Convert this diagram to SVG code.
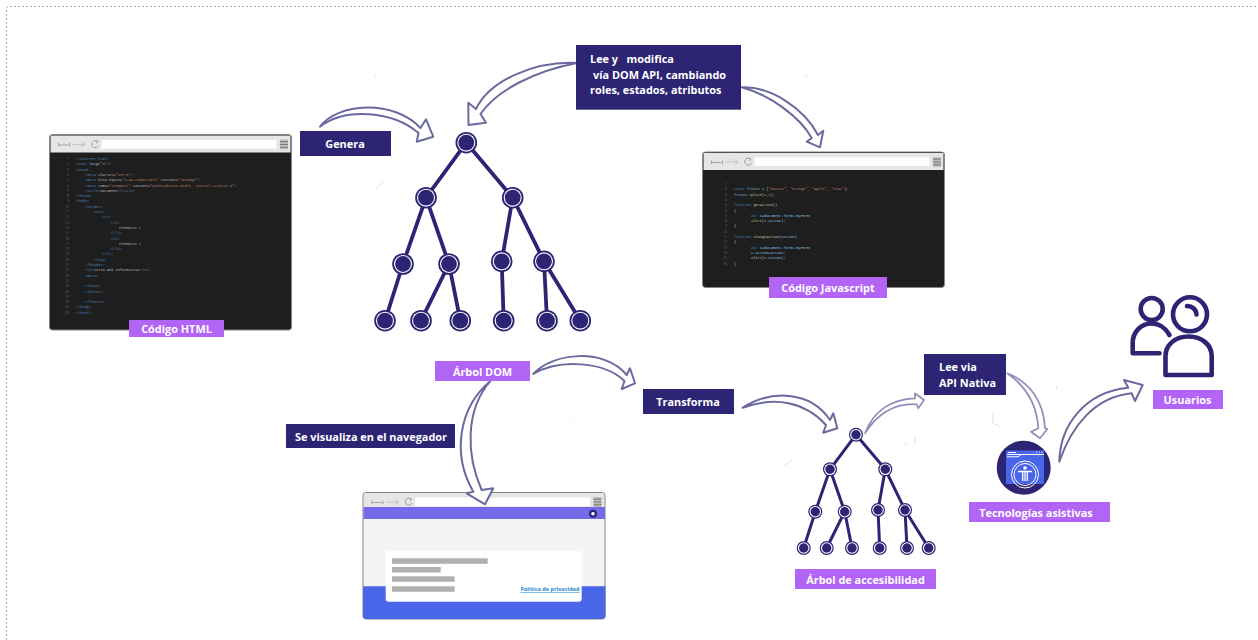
<svg xmlns="http://www.w3.org/2000/svg" xmlns:xlink="http://www.w3.org/1999/xlink" width="1258" height="640" viewBox="0 0 1258 640">
<style>
text{font-family:"Open Sans","Liberation Sans",sans-serif}
.lbl{font-size:10.900px;font-weight:700;fill:#fff;text-anchor:middle}
.lbll{font-size:10.900px;font-weight:700;fill:#fff;white-space:pre}
.navy{fill:#2d2573}
.pur{fill:#b264f5}
.edge{stroke:#2d2573;stroke-width:3.800;fill:none;stroke-linecap:round}
.edges{stroke:#2d2573;stroke-width:3;fill:none;stroke-linecap:round}
.arr{fill:#fff;stroke:#6b6a9f;stroke-width:2;stroke-linejoin:round}
.arrl{fill:#fff;stroke:#8f8eb9;stroke-width:1.700;stroke-linejoin:round}
.speck{stroke:#c4c3dc;stroke-width:.5;fill:none}
.code{font-family:"Liberation Mono",monospace;font-size:3.600px;fill:#d8d8d8;white-space:pre}
.num{font-family:"Liberation Mono",monospace;font-size:3.600px;fill:#777;text-anchor:end}
.t{fill:#569cd6}.a{fill:#9cdcfe}.s{fill:#ce9178}.f{fill:#dcdcaa}
.bar{fill:#b0b0b0}
.ic{fill:none;stroke:#2d2573;stroke-width:4.600;stroke-linecap:round;stroke-linejoin:round}
</style>
<defs>
<g id="nl"><circle r="10.800" fill="#2d2573"/><circle r="9" fill="#fff"/><circle r="7.900" fill="#2d2573"/></g>
<g id="ns"><circle r="7" fill="#2d2573"/><circle r="5.800" fill="#fff"/><circle r="4.700" fill="#2d2573"/></g>
<g id="tools">
<rect width="240" height="17" fill="#e6e6e6"/>
<path d="M8 9.500H18M8 7.500V11M19 7.500V11" stroke="#9a9a9a" stroke-width=".9" fill="none"/>
<path d="M22 9H34M31 6.500L34.500 9L31 11.500" stroke="#c0c0c0" stroke-width=".9" fill="none"/>
<path d="M47 6A3.500 3.500 0 1 0 48 10M45 5L47.500 6L46 8" stroke="#9a9a9a" stroke-width=".9" fill="none"/>
<rect x="51" y="4.500" width="175" height="8.500" fill="#fff"/>
<rect x="229.500" y="4" width="8" height="10" fill="#bdbdbd"/>
<path d="M229.500 6.200H237.500M229.500 9H237.500M229.500 11.800H237.500" stroke="#777" stroke-width="1"/>
</g>
</defs>
<rect width="1258" height="640" fill="#fff"/>
<path d="M6.500 640V9Q6.500 6.500 9 6.500H1258" fill="none" stroke="#a8a8a8" stroke-width="1" stroke-dasharray="2 2"/>

<g id="browser-html">
<rect x="49.500" y="134.500" width="242" height="195.500" rx="3" fill="#1e1e1e" stroke="#858585"/>
<use xlink:href="#tools" href="#tools" x="50.500" y="135.500"/>
<g opacity=".8">
<g class="num"><text x="69" y="160">1</text><text x="69" y="165.300">2</text><text x="69" y="170.600">3</text><text x="69" y="175.900">4</text><text x="69" y="181.200">5</text><text x="69" y="186.500">6</text><text x="69" y="191.800">7</text><text x="69" y="197.100">8</text><text x="69" y="202.400">9</text><text x="69" y="207.700">10</text><text x="69" y="213">11</text><text x="69" y="218.300">12</text><text x="69" y="223.600">13</text><text x="69" y="228.900">14</text><text x="69" y="234.200">15</text><text x="69" y="239.500">16</text><text x="69" y="244.800">17</text><text x="69" y="250.100">18</text><text x="69" y="255.400">19</text><text x="69" y="260.700">20</text><text x="69" y="266">21</text><text x="69" y="271.300">22</text><text x="69" y="276.600">23</text><text x="69" y="281.900">24</text><text x="69" y="287.200">25</text><text x="69" y="292.500">26</text><text x="69" y="297.800">27</text><text x="69" y="303.100">28</text><text x="69" y="308.400">29</text><text x="69" y="313.700">30</text></g>
<text class="code t" x="76" y="160">&lt;!DOCTYPE html&gt;</text>
<text class="code" x="76" y="165.300"><tspan class="t">&lt;html</tspan> lang=<tspan class="s">"en"</tspan><tspan class="t">&gt;</tspan></text>
<text class="code t" x="76" y="170.600">&lt;head&gt;</text>
<text class="code" x="85.300" y="175.900"><tspan class="t">&lt;meta</tspan> charset=<tspan class="s">"UTF-8"</tspan><tspan class="t">&gt;</tspan></text>
<text class="code" x="85.300" y="181.200"><tspan class="t">&lt;meta</tspan> http-equiv=<tspan class="s">"X-UA-Compatible"</tspan> content=<tspan class="s">"IE=edge"</tspan><tspan class="t">&gt;</tspan></text>
<text class="code" x="85.300" y="186.500"><tspan class="t">&lt;meta</tspan> name=<tspan class="s">"viewport"</tspan> content=<tspan class="s">"width=device-width, initial-scale=1.0"</tspan><tspan class="t">&gt;</tspan></text>
<text class="code" x="85.300" y="191.800"><tspan class="t">&lt;title&gt;</tspan>Document<tspan class="t">&lt;/title&gt;</tspan></text>
<text class="code t" x="76" y="197.100">&lt;/head&gt;</text>
<text class="code t" x="76" y="202.400">&lt;body&gt;</text>
<text class="code t" x="85.300" y="207.700">&lt;header&gt;</text>
<text class="code t" x="93.300" y="213">&lt;nav&gt;</text>
<text class="code t" x="102" y="218.300">&lt;ul&gt;</text>
<text class="code t" x="110.700" y="223.600">&lt;li&gt;</text>
<text class="code" x="119.300" y="228.900">Elemento 1</text>
<text class="code t" x="110.700" y="234.200">&lt;/li&gt;</text>
<text class="code t" x="110.700" y="239.500">&lt;li&gt;</text>
<text class="code" x="119.300" y="244.800">Elemento 2</text>
<text class="code t" x="110.700" y="250.100">&lt;/li&gt;</text>
<text class="code t" x="102" y="255.400">&lt;/ul&gt;</text>
<text class="code t" x="93.300" y="260.700">&lt;/nav&gt;</text>
<text class="code t" x="85.300" y="266">&lt;/header&gt;</text>
<text class="code" x="85.300" y="271.300"><tspan class="t">&lt;h1&gt;</tspan>Sitio web informativo<tspan class="t">&lt;/h1&gt;</tspan></text>
<text class="code t" x="85.300" y="276.600">&lt;main&gt;</text>
<text class="code t" x="85.300" y="287.200">&lt;/main&gt;</text>
<text class="code t" x="85.300" y="292.500">&lt;footer&gt;</text>
<text class="code t" x="85.300" y="303.100">&lt;/footer&gt;</text>
<text class="code t" x="76" y="308.400">&lt;/body&gt;</text>
<text class="code t" x="76" y="313.700">&lt;/html&gt;</text>
</g>
</g>

<g id="browser-js">
<rect x="702.500" y="152" width="242" height="135.500" rx="3" fill="#1e1e1e" stroke="#858585"/>
<use xlink:href="#tools" href="#tools" x="703.500" y="153"/>
<g opacity=".85">
<g class="num"><text x="727" y="185">1</text><text x="727" y="190.300">2</text><text x="727" y="195.600">3</text><text x="727" y="200.900">4</text><text x="727" y="206.200">5</text><text x="727" y="211.500">6</text><text x="727" y="216.800">7</text><text x="727" y="222.100">8</text><text x="727" y="227.400">9</text><text x="727" y="232.700">10</text><text x="727" y="238">11</text><text x="727" y="243.300">12</text><text x="727" y="248.600">13</text><text x="727" y="253.900">14</text><text x="727" y="259.200">15</text><text x="727" y="264.500">16</text></g>
<text class="code" x="734" y="190.300"><tspan class="t">const</tspan> <tspan class="a">fruits</tspan> = [<tspan class="s">"Banana"</tspan>, <tspan class="s">"Orange"</tspan>, <tspan class="s">"Apple"</tspan>, <tspan class="s">"Kiwi"</tspan>];</text>
<text class="code" x="734" y="195.600"><tspan class="a">fruits</tspan>.<tspan class="f">splice</tspan>(2,2);</text>
<text class="code" x="734" y="206.200"><tspan class="t">function</tspan> <tspan class="f">getAction</tspan>()</text>
<text class="code" x="734" y="211.500">{</text>
<text class="code" x="751" y="216.800"><tspan class="t">var</tspan> <tspan class="a">x=document.forms.myForm</tspan>;</text>
<text class="code" x="751" y="222.100"><tspan class="f">alert</tspan>(<tspan class="a">x.action</tspan>);</text>
<text class="code" x="734" y="227.400">}</text>
<text class="code" x="734" y="238"><tspan class="t">function</tspan> <tspan class="f">changeAction</tspan>(<tspan class="a">action</tspan>)</text>
<text class="code" x="734" y="243.300">{</text>
<text class="code" x="751" y="248.600"><tspan class="t">var</tspan> <tspan class="a">x=document.forms.myForm</tspan>;</text>
<text class="code" x="751" y="253.900"><tspan class="a">x.action=action</tspan>;</text>
<text class="code" x="751" y="259.200"><tspan class="f">alert</tspan>(<tspan class="a">x.action</tspan>);</text>
<text class="code" x="734" y="264.500">}</text>
</g>
</g>

<g id="browser-page">
<rect x="363" y="492.500" width="242" height="126.500" rx="3" fill="#f4f4f4" stroke="#858585"/>
<use xlink:href="#tools" href="#tools" x="364" y="493"/>
<rect x="363.500" y="507" width="241.500" height="12" fill="#756be9"/>
<circle cx="593" cy="513.700" r="4" fill="#2d2573"/><circle cx="593" cy="513.700" r="1.800" fill="#fff"/>
<path d="M363 586.300H605.500V616Q605.500 619 602.500 619H366Q363 619 363 616Z" fill="#4a66e8"/>
<rect x="385.700" y="551" width="196" height="50.700" rx="3" fill="#fff"/>
<rect class="bar" x="392" y="558.300" width="95.700" height="5.500"/>
<rect class="bar" x="392" y="567" width="48.700" height="5.500"/>
<rect class="bar" x="392" y="576.300" width="62.700" height="5.500"/>
<rect class="bar" x="392" y="586.300" width="62.700" height="5.500"/>
<text x="520.500" y="591" font-size="5.500" font-weight="700" fill="#1c86d1" text-decoration="underline">Política de privacidad</text>
</g>

<g id="connectors">
<g id="specks" class="speck">
<path d="M374 76L377.500 73.300M805 76L808 75M376 188.300L385.300 180.300M782.700 466.700L792 460.300M572.700 417.700L574.700 419.300M1056.700 385V389M993 412L992.500 423L1001 427M915 437V444M903 443L906 444"/>
</g>
<g id="dom-edges" class="edge">
<path d="M466.300 142.700L426 197.700M466.300 142.700L512.700 197.700M426 197.700L403 264M426 197.700L449 264M512.700 197.700L501.700 261.300M512.700 197.700L544 261.300M403 264L385 320.700M449 264L421 320.700M449 264L460.300 320.700M501.700 261.300L503.700 320.700M544 261.300L547 320.700M544 261.300L580.300 320.700"/>
</g>
<g id="a11y-edges" class="edges">
<path d="M856 434.700L830 469.300M856 434.700L885.300 469.300M830 469.300L815.300 511.700M830 469.300L844.700 511.700M885.300 469.300L878 510M885.300 469.300L905 510M815.300 511.700L803.700 548M844.700 511.700L826.700 548M844.700 511.700L852 548M878 510L879.700 548M905 510L907 548M905 510L928.700 548"/>
</g>
<path id="arrow-genera" class="arr" d="M320 126.700C337 103 394 99 420.500 128L426 119.300L433.300 136.700L416.700 141.700L418.500 133C393 111 345 107 320 126.700Z"/>
<path id="arrow-lee-dom" class="arr" d="M577 63C535 61 490 80 476 109L468.300 102.700L468.500 125L486 122.700L480.500 114C497 90 535 71 577 63Z"/>
<path id="arrow-lee-js" class="arr" d="M741.700 87.300C770 86 804 108 818 135L823.300 130.700L820 147.300L806.700 141.700L811.700 138C800 117 770 95 741.700 87.300Z"/>
<path id="arrow-dom-transforma" class="arr" d="M533.300 374C553 352 605 348 626.700 375L630 368.300L635 383.300L621.700 389L624.500 381C605 362 560 358 533.300 374Z"/>
<path id="arrow-dom-browser" class="arr" d="M490.700 380.700C458 408 452 455 473.300 491.700L466.700 493.300L485 504.300L493.300 488.300L481.700 490C466 455 465 410 490.700 380.700Z"/>
<path id="arrow-transforma-a11y" class="arr" d="M742.700 407.700C770 390 810 390 830 420L833.300 413.300L837.300 428.300L823.300 432.700L826 425C805 402 775 396 742.700 407.700Z"/>
<path id="arrow-a11y-lee" class="arrl" d="M865 433.300C873 412 890 399 915 398.300L915 393.300L924 400L918.300 408.300L916.700 404.300C895 403 878 413 865 433.300Z"/>
<path id="arrow-lee-at" class="arrl" d="M1007.300 373.300C1030 382 1044 402 1045 428.300L1047.300 429L1040 438.300L1031 431.700L1038.300 428.300C1037 405 1027 387 1007.300 373.300Z"/>
<path id="arrow-at-users" class="arr" d="M1059.300 461.700C1060 425 1085 392 1128.300 387.700L1124 380L1142.700 385L1135 401L1131.700 393.300C1095 397 1072 425 1059.300 461.700Z"/>
</g>

<g id="dom-tree">
<use href="#nl" x="466.300" y="142.700"/><use href="#nl" x="426" y="197.700"/><use href="#nl" x="512.700" y="197.700"/>
<use href="#nl" x="403" y="264"/><use href="#nl" x="449" y="264"/><use href="#nl" x="501.700" y="261.300"/><use href="#nl" x="544" y="261.300"/>
<use href="#nl" x="385" y="320.700"/><use href="#nl" x="421" y="320.700"/><use href="#nl" x="460.300" y="320.700"/><use href="#nl" x="503.700" y="320.700"/><use href="#nl" x="547" y="320.700"/><use href="#nl" x="580.300" y="320.700"/>
</g>
<g id="a11y-tree">
<use href="#ns" x="856" y="434.700"/><use href="#ns" x="830" y="469.300"/><use href="#ns" x="885.300" y="469.300"/>
<use href="#ns" x="815.300" y="511.700"/><use href="#ns" x="844.700" y="511.700"/><use href="#ns" x="878" y="510"/><use href="#ns" x="905" y="510"/>
<use href="#ns" x="803.700" y="548"/><use href="#ns" x="826.700" y="548"/><use href="#ns" x="852" y="548"/><use href="#ns" x="879.700" y="548"/><use href="#ns" x="907" y="548"/><use href="#ns" x="928.700" y="548"/>
</g>

<g id="usuarios-icon">
<circle class="ic" cx="1151.700" cy="309" r="11"/>
<path class="ic" d="M1169.500 335C1165 327 1159 323.500 1151.700 323.500C1141 323.500 1132.700 332 1132.700 343V353.300H1159.500"/>
<circle class="ic" cx="1190" cy="314.300" r="17"/>
<path class="ic" d="M1187 306A9 9 0 0 1 1196.500 314.500"/>
<path class="ic" d="M1165.500 375V356C1165.500 345 1175 336.500 1188.500 336.500C1202 336.500 1211.700 345 1211.700 356V375Z"/>
</g>
<g id="tecnologias-icon">
<circle cx="1023.700" cy="467.700" r="27" fill="#2d2573"/>
<rect x="1006" y="450.500" width="38" height="33.500" fill="#4a66e8"/>
<path d="M1007 454.500H1044M1007 456.800H1018L1021 454.500" stroke="#fff" stroke-width="1" fill="none"/>
<path d="M1008 452.500H1016M1036 452.200H1037M1039 452.200H1040M1041.500 452.200H1042.500" stroke="#fff" stroke-width="1"/>
<circle cx="1025" cy="474.500" r="13.500" fill="none" stroke="#fff" stroke-width="1"/>
<circle cx="1025" cy="474.500" r="11" fill="none" stroke="#fff" stroke-width="1"/>
<circle cx="1025" cy="468" r="1.800" fill="#fff"/>
<path d="M1018 471.500H1032M1025 471V481M1022.700 471V481M1027.300 471V481" stroke="#fff" stroke-width="1.300" fill="none"/>
</g>

<g id="label-genera"><rect class="navy" x="300" y="131" width="91" height="25"/><text class="lbl" x="345" y="148">Genera</text></g>
<g id="label-lee-dom"><rect class="navy" x="576" y="45" width="165" height="64.700"/><text class="lbll" x="590" y="63" xml:space="preserve">Lee y   modifica</text><text class="lbll" x="593" y="79">vía DOM API, cambiando</text><text class="lbll" x="590" y="94">roles, estados, atributos</text></g>
<g id="label-visualiza"><rect class="navy" x="286" y="424" width="169" height="24"/><text class="lbl" x="371" y="441">Se visualiza en el navegador</text></g>
<g id="label-transforma"><rect class="navy" x="643" y="389" width="91" height="25"/><text class="lbl" x="688" y="406">Transforma</text></g>
<g id="label-lee-nativa"><rect class="navy" x="924" y="354" width="82" height="41"/><text class="lbll" x="939" y="371">Lee via</text><text class="lbll" x="939" y="387">API Nativa</text></g>
<g id="label-html"><rect class="pur" x="129" y="320" width="95" height="17"/><text class="lbl" x="176.500" y="332.500">Código HTML</text></g>
<g id="label-js"><rect class="pur" x="769" y="277" width="118" height="21"/><text class="lbl" x="828" y="292">Código Javascript</text></g>
<g id="label-dom"><rect class="pur" x="435" y="361" width="95" height="20"/><text class="lbl" x="482.500" y="375.500">Árbol DOM</text></g>
<g id="label-a11y"><rect class="pur" x="795" y="569" width="141" height="20"/><text class="lbl" x="865.500" y="583.500">Árbol de accesibilidad</text></g>
<g id="label-usuarios"><rect class="pur" x="1153" y="390" width="70" height="19"/><text class="lbl" x="1187.500" y="403.500">Usuarios</text></g>
<g id="label-tecnologias"><rect class="pur" x="969" y="502" width="141" height="20"/><text class="lbl" x="1036" y="516.500">Tecnologías asistivas</text></g>
</svg>
